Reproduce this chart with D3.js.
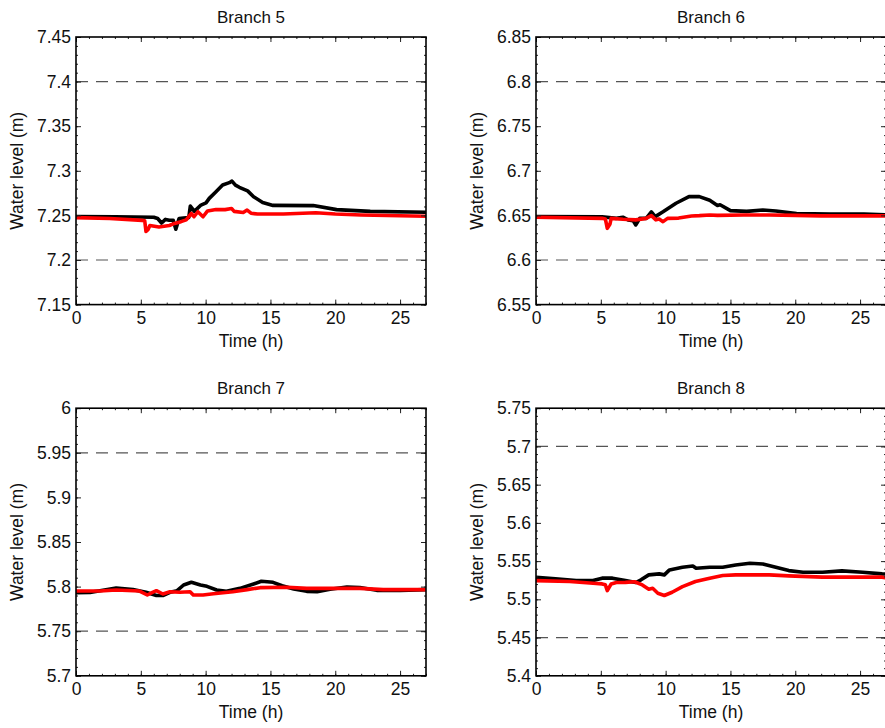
<!DOCTYPE html>
<html><head><meta charset="utf-8">
<script src="https://cdn.jsdelivr.net/npm/d3@7"></script>
<style>
html,body{margin:0;padding:0;background:#fff;}
text{font-family:"Liberation Sans",Arial,sans-serif;}
</style></head>
<body><svg id="chart" width="885" height="728"></svg>
<script>
// ---- data ----
const titles = ["Branch 5", "Branch 6", "Branch 7", "Branch 8"];
const yDomains = [[7.15, 7.45], [6.55, 6.85], [5.7, 6.0], [5.4, 5.75]];
const refLines = [[7.4, 7.2], [6.8, 6.6], [5.95, 5.75], [5.7, 5.45]];
const xTicks = [0, 5, 10, 15, 20, 25];

const b5BlackT = [0,3,6,6.3,6.6,6.9,7.2,7.5,7.7,7.95,8.3,8.7,8.82,9.13,9.64,10.03,10.28,10.8,11.31,11.83,12.03,12.3,12.6,13.24,13.7,14.4,15.2,18.3,20.1,22.7,27];
const b5BlackV = [7.2488,7.2485,7.248,7.2465,7.2415,7.2455,7.2445,7.2445,7.2345,7.2465,7.247,7.2475,7.2605,7.2545,7.2616,7.264,7.2691,7.2766,7.2841,7.2867,7.2885,7.284,7.2815,7.2775,7.271,7.2645,7.2612,7.261,7.2565,7.2545,7.2535];
const b5RedT = [0,2.6,5.1,5.3,5.4,5.55,5.7,6.4,7.2,7.6,8.1,8.5,8.9,9.1,9.4,9.8,10.15,10.8,11.5,12,12.2,12.9,13.2,13.5,14,16,18.5,20,22,27];
const b5RedV = [7.2475,7.2466,7.2444,7.244,7.232,7.234,7.2387,7.237,7.2387,7.241,7.243,7.245,7.2522,7.2485,7.2541,7.2485,7.255,7.2566,7.2565,7.2577,7.2545,7.2533,7.256,7.2525,7.2515,7.2515,7.253,7.2515,7.2505,7.249];

const b6BlackT = [0,5.1,6.2,6.7,7.1,7.5,7.7,8.0,8.5,8.9,9.2,9.8,10.8,11.8,12.6,13.4,14.0,14.2,15.0,16.25,17.5,18.5,20.1,22.7,25.3,27];
const b6BlackV = [6.6486,6.6484,6.6467,6.648,6.645,6.644,6.6393,6.6467,6.6467,6.654,6.6486,6.654,6.6636,6.6711,6.6711,6.667,6.6612,6.662,6.6553,6.6545,6.656,6.655,6.652,6.6514,6.6514,6.6505];
const b6RedT = [0,5.1,5.35,5.5,5.7,5.8,6.7,7.7,8.5,8.9,9.25,9.5,9.8,10.15,11,12,12.6,13.4,14,16,18,20,22,27];
const b6RedV = [6.648,6.6467,6.646,6.6355,6.640,6.6467,6.6456,6.645,6.6467,6.6497,6.645,6.646,6.643,6.6467,6.647,6.6493,6.6497,6.6505,6.65,6.6505,6.6505,6.65,6.6495,6.6495];

const b7BlackT = [0,1.08,1.85,3.1,4.4,5.4,6.2,6.7,7.25,7.8,8.3,8.9,9.6,10.1,10.85,11.6,12.65,13.7,14.3,15.2,15.9,16.8,17.8,18.6,19.6,20.9,21.9,23.2,25,27];
const b7BlackV = [5.7932,5.7935,5.7954,5.7984,5.7966,5.7936,5.79,5.79,5.7936,5.7954,5.8018,5.8048,5.8018,5.8003,5.7962,5.7947,5.798,5.803,5.806,5.8048,5.801,5.7973,5.7947,5.7943,5.797,5.7995,5.799,5.7958,5.7958,5.7966];
const b7RedT = [0,1.85,3.1,4.9,5.5,5.9,6.2,6.7,7.25,8.0,8.8,9.05,9.8,10.6,12.1,13.2,14.2,16.3,17.8,19.9,21.9,23.7,27];
const b7RedV = [5.795,5.795,5.7962,5.795,5.7906,5.7936,5.7954,5.7917,5.7943,5.7936,5.7943,5.7906,5.7906,5.792,5.7943,5.7966,5.7988,5.7992,5.798,5.798,5.798,5.7966,5.7966];

const b8BlackT = [0,1.5,3.1,4.4,5.1,5.9,6.9,7.7,8.1,8.7,9.5,9.9,10.3,11.3,12.1,12.35,13.4,14.4,15.4,16.5,17.5,18.5,19.5,20.6,22.1,23.6,25.2,26.7,27];
const b8BlackV = [5.529,5.5268,5.5245,5.5245,5.5277,5.5277,5.5245,5.522,5.5255,5.532,5.5333,5.532,5.5385,5.542,5.5437,5.5407,5.542,5.542,5.545,5.5473,5.5463,5.542,5.5376,5.5355,5.5355,5.5372,5.5355,5.5333,5.533];
const b8RedT = [0,2.6,4.4,5.1,5.35,5.5,5.8,6.2,6.9,7.6,8.2,8.7,9.0,9.4,9.9,10.5,11.3,12.3,13.4,14.4,15.4,18,19.5,22.1,26.7,27];
const b8RedV = [5.5245,5.5233,5.5211,5.5202,5.519,5.5115,5.5202,5.522,5.5222,5.523,5.5189,5.5133,5.5145,5.508,5.505,5.5093,5.5167,5.5233,5.5277,5.5311,5.532,5.532,5.5307,5.529,5.529,5.528];

const blackT = [b5BlackT, b6BlackT, b7BlackT, b8BlackT];
const blackV = [b5BlackV, b6BlackV, b7BlackV, b8BlackV];
const redT = [b5RedT, b6RedT, b7RedT, b8RedT];
const redV = [b5RedV, b6RedV, b7RedV, b8RedV];

// ---- layout ----
const panels = [
  {left: 76, top: 37, w: 350, h: 267.6},
  {left: 536, top: 37, w: 350, h: 267.6},
  {left: 76, top: 408.2, w: 350, h: 267.6},
  {left: 536, top: 408.2, w: 350, h: 267.6}
];

const svg = d3.select("#chart");
const fmt = d => String(+d.toFixed(2));

panels.forEach((p, i) => {
  const g = svg.append("g").attr("transform", `translate(${p.left},${p.top})`);
  const x = d3.scaleLinear().domain([0, 27]).range([0, p.w]);
  const y = d3.scaleLinear().domain(yDomains[i]).range([p.h, 0]);
  const [y0, y1] = yDomains[i];
  const nMaj = Math.round((y1 - y0) / 0.05);
  const yMajor = d3.range(nMaj + 1).map(k => +(y0 + k * 0.05).toFixed(2));
  const yMinor = d3.range(Math.round((y1 - y0) / 0.01) + 1).map(k => +(y0 + k * 0.01).toFixed(3));
  const xMinor = d3.range(0, 28, 1);

  // dashed reference lines
  refLines[i].forEach(v => {
    g.append("line").attr("x1", 0).attr("x2", p.w).attr("y1", y(v)).attr("y2", y(v))
      .attr("stroke", "#555").attr("stroke-width", 1.2).attr("stroke-dasharray", "12,8");
  });

  // data lines
  const line = d3.line().x(d => x(d[0])).y(d => y(d[1]));
  const bl = blackT[i].map((t, k) => [t, blackV[i][k]]);
  const rd = redT[i].map((t, k) => [t, redV[i][k]]);
  g.append("path").datum(bl).attr("d", line).attr("fill", "none")
    .attr("stroke", "#000").attr("stroke-width", 3.6).attr("stroke-linejoin", "round");
  g.append("path").datum(rd).attr("d", line).attr("fill", "none")
    .attr("stroke", "#ff0000").attr("stroke-width", 3.6).attr("stroke-linejoin", "round");

  // axes: minor ticks
  const minorStyle = sel => { sel.select(".domain").remove(); sel.selectAll("text").remove();
    sel.selectAll("line").attr("stroke", "#222"); };
  g.append("g").call(d3.axisLeft(y).tickValues(yMinor).tickSizeInner(-2).tickSizeOuter(0)).call(minorStyle);
  g.append("g").attr("transform", `translate(${p.w},0)`).call(d3.axisRight(y).tickValues(yMinor).tickSizeInner(-2).tickSizeOuter(0)).call(minorStyle);
  g.append("g").attr("transform", `translate(0,${p.h})`).call(d3.axisBottom(x).tickValues(xMinor).tickSizeInner(-2).tickSizeOuter(0)).call(minorStyle);
  g.append("g").call(d3.axisTop(x).tickValues(xMinor).tickSizeInner(-2).tickSizeOuter(0)).call(minorStyle);

  // major ticks with labels
  const yAx = g.append("g").call(d3.axisLeft(y).tickValues(yMajor).tickFormat(fmt).tickSizeInner(-5).tickSizeOuter(0).tickPadding(5));
  yAx.select(".domain").remove();
  yAx.selectAll("line").attr("stroke", "#222");
  yAx.selectAll("text").attr("font-size", "17.5px").attr("fill", "#111").attr("font-family", "Liberation Sans, Arial, sans-serif");
  const yAxR = g.append("g").attr("transform", `translate(${p.w},0)`).call(d3.axisRight(y).tickValues(yMajor).tickFormat("").tickSizeInner(-5).tickSizeOuter(0));
  yAxR.select(".domain").remove(); yAxR.selectAll("line").attr("stroke", "#222");
  const xAx = g.append("g").attr("transform", `translate(0,${p.h})`).call(d3.axisBottom(x).tickValues(xTicks).tickFormat(d3.format("d")).tickSizeInner(-5).tickSizeOuter(0).tickPadding(7));
  xAx.select(".domain").remove();
  xAx.selectAll("line").attr("stroke", "#222");
  xAx.selectAll("text").attr("font-size", "17.5px").attr("fill", "#111").attr("font-family", "Liberation Sans, Arial, sans-serif");
  const xAxT = g.append("g").call(d3.axisTop(x).tickValues(xTicks).tickFormat("").tickSizeInner(-5).tickSizeOuter(0));
  xAxT.select(".domain").remove(); xAxT.selectAll("line").attr("stroke", "#222");

  // frame
  g.append("rect").attr("x", 0).attr("y", 0).attr("width", p.w).attr("height", p.h)
    .attr("fill", "none").attr("stroke", "#000").attr("stroke-width", 1.6);

  // titles and labels
  g.append("text").attr("x", p.w / 2).attr("y", -14).attr("text-anchor", "middle")
    .attr("font-size", "17px").attr("fill", "#111").text(titles[i]);
  g.append("text").attr("x", p.w / 2).attr("y", p.h + 42).attr("text-anchor", "middle")
    .attr("font-size", "17.5px").attr("fill", "#111").text("Time (h)");
  g.append("text").attr("transform", `translate(-53,${p.h / 2}) rotate(-90)`).attr("text-anchor", "middle")
    .attr("font-size", "17.5px").attr("fill", "#111").text("Water level (m)");
});
</script>
</body></html>
